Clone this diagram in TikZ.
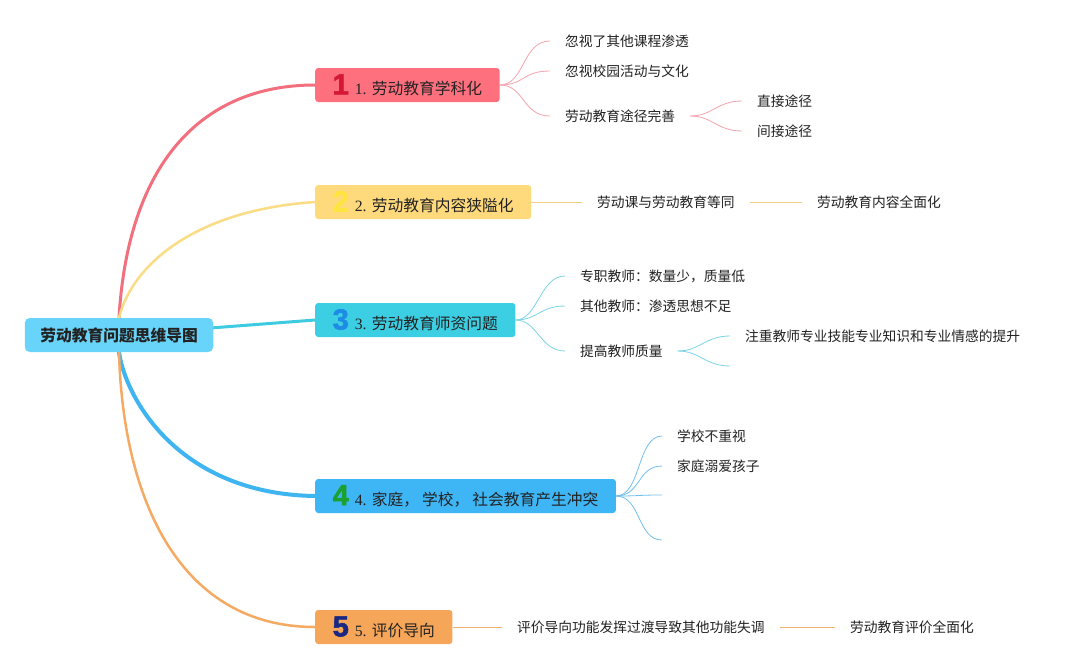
\documentclass[tikz,border=0pt]{standalone}
\usepackage{fontspec}
\setmainfont{Liberation Serif}
\newfontfamily\cjk{Noto Sans CJK SC}
\newfontfamily\numfont[FakeBold=2]{Liberation Sans Bold}
\usetikzlibrary{positioning,backgrounds}
\definecolor{RootBlue}{RGB}{105,212,250}
\definecolor{TextGray}{RGB}{34,34,34}
\definecolor{RedBox}{RGB}{255,112,126}
\definecolor{RedNum}{RGB}{214,24,52}
\definecolor{RedLine}{RGB}{242,112,126}
\definecolor{RedThin}{RGB}{244,164,174}
\definecolor{YellowBox}{RGB}{255,218,124}
\definecolor{YellowNum}{RGB}{255,228,64}
\definecolor{YellowLine}{RGB}{250,220,132}
\definecolor{YellowThin}{RGB}{245,208,130}
\definecolor{CyanBox}{RGB}{60,206,226}
\definecolor{CyanNum}{RGB}{30,140,228}
\definecolor{CyanLine}{RGB}{62,202,224}
\definecolor{CyanThin}{RGB}{122,214,230}
\definecolor{BlueBox}{RGB}{62,182,245}
\definecolor{GreenNum}{RGB}{28,160,48}
\definecolor{BlueLine}{RGB}{62,180,240}
\definecolor{BlueThin}{RGB}{112,192,240}
\definecolor{OrangeBox}{RGB}{246,166,88}
\definecolor{NavyNum}{RGB}{26,40,130}
\definecolor{OrangeLine}{RGB}{245,170,100}
\definecolor{OrangeThin}{RGB}{240,176,112}
\newcommand{\BranchNum}[2]{{\numfont\fontsize{29}{29}\selectfont\color{#1}#2}\hspace{6pt}}

\begin{document}
\begin{tikzpicture}[x=1pt,y=-1pt,
    rootbox/.style={fill=RootBlue, rounded corners=5pt, minimum height=34pt, inner xsep=15.5pt,
      text=TextGray, font=\cjk\bfseries\fontsize{15.75}{18}\selectfont},
    branchbox/.style={fill=#1, rounded corners=3pt, minimum height=34pt, inner xsep=17.5pt, inner ysep=0pt,
      anchor=west, text=TextGray, font=\fontsize{15.75}{18}\selectfont},
    leaf/.style={anchor=west, inner xsep=15pt, inner ysep=2pt, text=TextGray, font=\cjk\fontsize{13.75}{16}\selectfont},
    twig/.style={#1, line width=0.8pt},
    limb/.style={#1, line cap=round}]
    \useasboundingbox (0,0) rectangle (1085,670);
    % Central topic and main branches
    \node[rootbox] (root) at (119,335) {劳动教育问题思维导图};
    \node[branchbox=RedBox] (b1) at (315,85) {\BranchNum{RedNum}{1}1. {\cjk 劳动教育学科化}};
    \node[branchbox=YellowBox] (b2) at (315,202) {\BranchNum{YellowNum}{2}2. {\cjk 劳动教育内容狭隘化}};
    \node[branchbox=CyanBox] (b3) at (315,320) {\BranchNum{CyanNum}{3}3. {\cjk 劳动教育师资问题}};
    \node[branchbox=BlueBox] (b4) at (315,496) {\BranchNum{GreenNum}{4}4. {\cjk 家庭，\hspace{3pt}学校，\hspace{3pt}社会教育产生冲突}};
    \node[branchbox=OrangeBox] (b5) at (315,627) {\BranchNum{NavyNum}{5}5. {\cjk 评价导向}};
    % Sub topics
    \node[leaf] (c11) at (550,41) {忽视了其他课程渗透};
    \node[leaf] (c12) at (550,71) {忽视校园活动与文化};
    \node[leaf] (c13) at (550,116) {劳动教育途径完善};
    \node[leaf] (c131) at (742,101) {直接途径};
    \node[leaf] (c132) at (742,131) {间接途径};
    \node[leaf] (c21) at (582,202) {劳动课与劳动教育等同};
    \node[leaf] (c211) at (802,202) {劳动教育内容全面化};
    \node[leaf] (c31) at (565,276) {专职教师：数量少，质量低};
    \node[leaf] (c32) at (565,306) {其他教师：渗透思想不足};
    \node[leaf] (c33) at (565,351) {提高教师质量};
    \node[leaf] (c331) at (730,336) {注重教师专业技能专业知识和专业情感的提升};
    \coordinate (e332) at (730,366);
    \node[leaf] (c41) at (662,436) {学校不重视};
    \node[leaf] (c42) at (662,466) {家庭溺爱孩子};
    \coordinate (e43) at (662,495);
    \coordinate (e44) at (662,540);
    \node[leaf] (c51) at (502,627) {评价导向功能发挥过渡导致其他功能失调};
    \node[leaf] (c511) at (835,627) {劳动教育评价全面化};
    % Thick curves from the centre
    \begin{scope}[on background layer]
      \fill[white] (0,0) rectangle (1085,670);
      \draw[limb=RedLine, line width=3pt] (root.north) .. controls (128,165) and (200,85) .. (b1.west);
      \draw[limb=YellowLine, line width=2.5pt] (root.north) .. controls (132,265) and (195,210) .. (b2.west);
      \draw[limb=CyanLine, line width=3pt] (root.center) -- (b3.west);
      \draw[limb=BlueLine, line width=4pt] (root.south) .. controls (126,400) and (180,494) .. (b4.west);
      \draw[limb=OrangeLine, line width=2.5pt] (root.south) .. controls (123,500) and (180,627) .. (b5.west);
    \end{scope}
    % Thin links to the sub topics
    \foreach \kid in {c11,c12,c13} \draw[twig=RedThin] (b1.east) .. controls +(25,0) and +(-28,0) .. (\kid.west);
    \foreach \kid in {c131,c132} \draw[twig=RedThin] (c13.east) .. controls +(22,0) and +(-25,0) .. (\kid.west);
    \draw[twig=YellowThin] (b2.east) -- (c21.west);
    \draw[twig=YellowThin] (c21.east) -- (c211.west);
    \foreach \kid in {c31,c32,c33} \draw[twig=CyanThin] (b3.east) .. controls +(22,0) and +(-25,0) .. (\kid.west);
    \draw[twig=CyanThin] (c33.east) .. controls +(22,0) and +(-25,0) .. (c331.west);
    \draw[twig=CyanThin] (c33.east) .. controls +(22,0) and +(-25,0) .. (e332);
    \foreach \kid in {c41,c42} \draw[twig=BlueThin] (b4.east) .. controls +(25,0) and +(-25,0) .. (\kid.west);
    \foreach \kid in {e43,e44} \draw[twig=BlueThin] (b4.east) .. controls +(25,0) and +(-25,0) .. (\kid);
    \draw[twig=OrangeThin] (b5.east) -- (c51.west);
    \draw[twig=OrangeThin] (c51.east) -- (c511.west);
\end{tikzpicture}
\end{document}
